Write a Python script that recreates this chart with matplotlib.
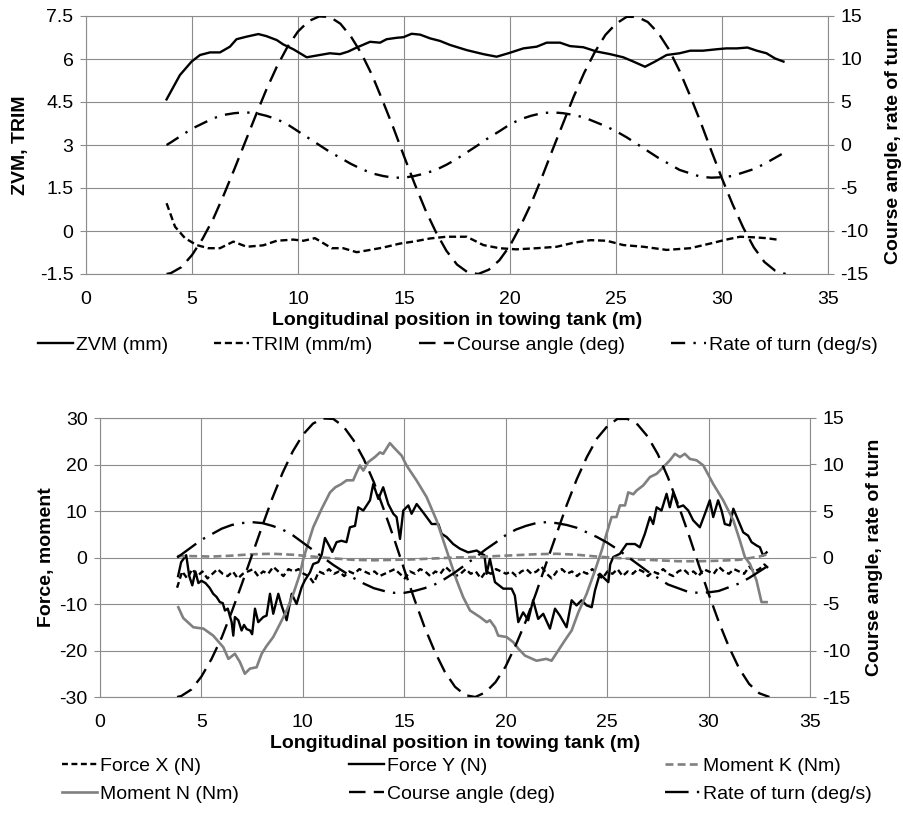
import numpy as np
import matplotlib
matplotlib.use("Agg")
import matplotlib.pyplot as plt

plt.rcParams['font.family'] = ['Liberation Sans', 'DejaVu Sans']
plt.rcParams['font.size'] = 14
plt.rcParams['axes.unicode_minus'] = False

# ---- course angle (deg) and rate of turn (deg/s), both panels ----
course_x = [3.8] + list(np.arange(4.0, 33.01, 0.5))
course_angle = [-15.0, -14.9, -14.2, -12.8, -10.9, -8.6, -5.8, -2.8, 0.3, 3.4,
                6.4, 9.1, 11.4, 13.2, 14.4, 14.95, 14.9, 14.1, 12.6, 10.6,
                8.1, 5.1, 2.0, -1.3, -4.5, -7.5, -10.1, -12.3, -13.9, -14.8,
                -15.0, -14.5, -13.4, -11.7, -9.4, -6.8, -3.8, -0.6, 2.5, 5.6,
                8.4, 10.8, 12.8, 14.1, 14.9, 14.9, 14.3, 13.0, 11.1, 8.6,
                5.7, 2.6, -0.7, -3.9, -6.9, -9.6, -11.9, -13.6, -14.6, -15.0]
rate_of_turn = [0.0, 0.3, 1.1, 1.9, 2.5, 3.1, 3.5, 3.7, 3.8, 3.7,
                3.4, 3.0, 2.4, 1.6, 0.8, 0.0, -0.8, -1.5, -2.2, -2.8,
                -3.3, -3.6, -3.8, -3.8, -3.6, -3.3, -2.9, -2.3, -1.6, -0.8,
                0.0, 0.85, 1.6, 2.4, 3.0, 3.4, 3.7, 3.8, 3.7, 3.5,
                3.2, 2.7, 2.2, 1.6, 0.9, 0.1, -0.7, -1.5, -2.2, -2.9,
                -3.3, -3.7, -3.8, -3.75, -3.6, -3.2, -2.8, -2.2, -1.5, -0.8]

# ---- top panel: ZVM (mm) and TRIM (mm/m) ----
zvm_x = [3.8, 4.43, 4.98, 5.38, 5.85, 6.32, 6.79, 7.1, 7.58, 8.13, 8.5, 9.0, 9.3,
         9.78, 10.41, 11.03, 11.5, 11.98, 12.37, 12.77, 13.4, 13.87, 14.18, 14.66,
         14.97, 15.36, 15.76, 16.23, 16.7, 17.17, 17.96, 18.74, 19.37, 19.92, 20.63,
         21.26, 21.73, 22.36, 22.83, 23.46, 24.09, 24.72, 25.34, 25.82, 26.37, 26.84,
         27.39, 28.0, 28.5, 29.1, 29.75, 30.2, 30.7, 31.2, 31.64, 32.1, 32.5, 32.9]
zvm = [4.59, 5.44, 5.91, 6.14, 6.23, 6.23, 6.43, 6.69, 6.78, 6.87, 6.80, 6.66, 6.51,
       6.34, 6.06, 6.14, 6.20, 6.17, 6.26, 6.40, 6.60, 6.57, 6.69, 6.74,
       6.76, 6.88, 6.85, 6.72, 6.63, 6.49, 6.31, 6.17, 6.08, 6.20, 6.37,
       6.43, 6.57, 6.57, 6.45, 6.41, 6.26, 6.17, 6.06, 5.91, 5.73, 5.91,
       6.14, 6.20, 6.29, 6.29, 6.34, 6.37, 6.37, 6.40, 6.29, 6.20, 6.02, 5.91]

trim_x = [3.8, 4.2, 4.67, 5.22, 5.77, 6.32, 6.95, 7.58, 8.36, 9.0, 9.78, 10.26, 10.8,
          11.59, 12.13, 12.77, 13.4, 14.0, 14.8, 15.44, 16.23, 17.0, 17.96, 18.74,
          19.5, 20.3, 21.26, 22.2, 23.0, 23.8, 24.56, 25.34, 26.3, 27.39, 28.5,
          29.43, 30.2, 30.85, 31.5, 32.1, 32.7]
trim = [0.97, 0.15, -0.25, -0.49, -0.60, -0.60, -0.37, -0.55, -0.50, -0.34, -0.30, -0.34, -0.25,
        -0.60, -0.60, -0.74, -0.66, -0.58, -0.44, -0.37, -0.26, -0.20, -0.20, -0.49,
        -0.60, -0.64, -0.60, -0.55, -0.41, -0.32, -0.34, -0.49, -0.55, -0.66, -0.60,
        -0.44, -0.30, -0.20, -0.22, -0.25, -0.31]

# ---- bottom panel: forces (N) and moments (Nm) ----
force_x = [-6.5, -3.0, -4.5, -2.5, -4.0, -3.0, -4.5, -3.5, -2.5, -3.5,
           -4.0, -3.0, -4.5, -3.5, -3.0, -2.5, -4.0, -3.0, -3.5, -2.0,
           -3.0, -4.0, -2.5, -3.0, -2.5, -3.5, -4.0, -5.5, -3.0, -3.5,
           -2.5, -3.5, -3.0, -4.0, -3.0, -3.5, -2.5, -3.0, -3.5, -3.0,
           -4.0, -3.5, -3.0, -2.5, -3.5, -4.5, -3.0, -3.5, -2.5, -3.0,
           -4.0, -3.0, -3.5, -2.0, -3.0, -4.0, -3.5, -2.5, -3.5, -3.0,
           -4.5, -3.0, -3.5, -2.5, -3.0, -3.5, -3.0, -4.0, -3.0, -2.5,
           -3.5, -3.0, -2.0, -3.5, -4.5, -3.0, -2.5, -3.5, -3.0, -4.0,
           -3.0, -3.5, -2.5, -3.5, -4.5, -3.0, -3.5, -2.5, -4.0, -3.0,
           -3.5, -2.5, -3.0, -4.0, -3.0, -3.5, -2.5, -3.5, -4.0, -3.0,
           -2.5, -3.5, -3.0, -4.0, -2.5, -3.0, -3.5, -2.0, -3.0, -3.5,
           -2.5, -3.0, -3.5, -2.0, -3.0, -2.5, -1.5, -2.5]
force_x_pos = np.linspace(3.8, 33.0, len(force_x))

force_y_x = [3.85, 4.0, 4.25, 4.4, 4.55, 4.7, 4.85, 5.0, 5.2, 5.4, 5.58, 5.75, 5.91, 6.05,
             6.16, 6.3, 6.49, 6.57, 6.65, 6.82, 6.98, 7.1, 7.23, 7.4, 7.5, 7.64, 7.8,
             8.05, 8.21, 8.38, 8.54, 8.79, 8.95, 9.2, 9.45, 9.69, 9.94, 10.1, 10.35,
             10.51, 10.76, 10.93, 11.09, 11.3, 11.45, 11.66, 11.9, 12.15, 12.32, 12.57,
             12.73, 12.98, 13.31, 13.47, 13.72, 13.96, 14.21, 14.46, 14.62, 14.79, 14.95,
             15.2, 15.36, 15.61, 15.86, 16.1, 16.35, 16.68, 16.84, 17.09, 17.41, 17.74,
             18.15, 18.57, 18.81, 18.95, 19.06, 19.22, 19.47, 19.88, 20.29, 20.45, 20.62,
             20.86, 21.11, 21.35, 21.6, 21.85, 22.18, 22.43, 22.67, 23.0, 23.25, 23.49,
             23.74, 23.99, 24.24, 24.4, 24.64, 24.89, 25.06, 25.15, 25.3, 25.63, 25.96,
             26.37, 26.61, 26.86, 27.11, 27.27, 27.44, 27.68, 27.93, 28.09, 28.26, 28.5,
             28.75, 29.0, 29.24, 29.57, 29.82, 30.06, 30.23, 30.47, 30.64, 30.8, 31.05,
             31.22, 31.46, 31.71, 31.95, 32.12, 32.36, 32.53, 32.69, 32.86]
force_y = [-4.0, -1.0, 0.5, -4.0, -6.0, -3.0, -5.5, -5.0, -5.5, -6.5, -7.8, -8.5, -9.6, -9.8,
           -11.4, -11.0, -13.9, -16.8, -12.8, -13.5, -15.7, -14.5, -15.4, -15.7, -16.5, -11.0, -13.9,
           -12.8, -12.5, -7.8, -12.1, -7.8, -10.3, -13.5, -7.8, -10.0, -6.4, -4.9, -3.2,
           -1.4, -1.0, 0.6, 4.2, 2.5, 1.2, 3.3, 3.6, 3.3, 6.5, 6.8,
           10.8, 10.1, 12.3, 15.8, 12.6, 15.1, 11.5, 9.4, 8.7, 4.0, 10.1,
           11.2, 9.4, 11.5, 10.1, 8.7, 7.2, 7.2, 5.1, 4.4, 2.9, 1.9,
           1.1, 1.5, 0.8, 0.5, -3.5, -0.3, -5.3, -6.7, -6.7, -8.2, -13.9,
           -11.8, -13.5, -9.2, -13.2, -12.1, -15.3, -11.0, -12.5, -15.0, -9.2, -10.3,
           -9.2, -10.3, -10.7, -7.1, -3.5, -4.6, -5.3, -1.5, 0.1, 0.8, 2.9,
           2.9, 2.2, 5.1, 8.7, 7.2, 10.8, 10.1, 13.7, 10.8, 14.0, 10.8,
           11.2, 10.1, 8.0, 6.5, 9.4, 12.3, 8.7, 12.3, 10.1, 7.2, 6.9,
           10.5, 8.0, 5.4, 4.7, 3.3, 2.6, 2.2, 0.4, 1.1]

moment_k_x = [3.8, 4.5, 5.5, 6.5, 7.5, 8.5, 9.5, 10.5, 11.5, 12.5, 13.5, 14.5, 15.5, 16.5,
              17.5, 18.5, 19.5, 20.5, 21.5, 22.5, 23.5, 24.5, 25.5, 26.5, 27.5, 28.5,
              29.5, 30.5, 31.5, 32.5, 33.0]
moment_k = [0.3, 0.3, 0.2, 0.4, 0.7, 0.8, 0.6, 0.2, -0.2, -0.5, -0.6, -0.5, -0.4, -0.2,
            0.0, 0.1, 0.3, 0.5, 0.7, 0.8, 0.6, 0.2, -0.1, -0.4, -0.6, -0.8,
            -0.8, -0.7, -0.5, 0.2, 0.8]

moment_n_x = [3.86, 4.1, 4.6, 5.1, 5.58, 6.08, 6.33, 6.65, 6.9, 7.14, 7.39, 7.72, 7.97, 8.2,
              8.54, 8.87, 9.2, 9.53, 9.86, 10.02, 10.51, 10.93, 11.34, 11.6, 11.9, 12.16,
              12.48, 12.65, 12.81, 12.98, 13.22, 13.55, 13.8, 13.96, 14.29, 14.54, 14.87,
              15.11, 15.6, 16.1, 16.59, 16.92, 17.25, 17.58, 17.9, 18.24, 18.73, 19.06,
              19.22, 19.47, 19.63, 20.04, 20.37, 20.62, 20.95, 21.52, 22.0, 22.26, 22.59,
              22.92, 23.25, 23.58, 23.99, 24.4, 24.73, 24.97, 25.22, 25.46, 25.63, 25.88,
              26.04, 26.29, 26.45, 26.78, 27.11, 27.44, 27.76, 28.09, 28.34, 28.59, 28.83,
              29.08, 29.41, 29.74, 30.23, 30.72, 31.22, 31.54, 31.79, 32.04, 32.36, 32.61,
              32.86]
moment_n = [-10.7, -13.0, -15.0, -15.3, -16.8, -19.3, -21.8, -20.7, -22.5, -25.0, -23.9, -23.6, -20.7, -19.1,
            -17.1, -14.3, -11.4, -7.8, -3.5, -0.3, 6.5, 10.5, 14.0, 15.1, 15.8, 16.6,
            16.6, 18.3, 19.8, 18.7, 20.5, 21.6, 22.6, 22.3, 24.6, 23.4, 21.9,
            19.8, 16.6, 13.0, 8.0, 3.7, -0.6, -4.9, -8.5, -11.4, -12.8, -13.9,
            -13.5, -15.0, -16.8, -17.1, -18.2, -19.6, -21.1, -22.2, -21.8, -22.2, -20.0,
            -17.8, -15.7, -11.8, -7.8, -2.8, 1.5, 5.1, 8.7, 8.7, 11.2, 11.2,
            14.0, 13.6, 14.4, 15.5, 17.3, 18.0, 19.4, 20.9, 22.3, 21.6, 22.3,
            21.2, 20.9, 19.8, 15.8, 12.3, 8.0, 3.7, 0.1, -1.4, -4.9, -9.6,
            -9.6]

GRID = '#8c8c8c'
GRAY = '#808080'


def style_axes(ax, ymin, ymax, ystep):
    ax.set_xlim(0, 35)
    ax.set_xticks(np.arange(0, 36, 5))
    ax.set_ylim(ymin, ymax)
    ax.set_yticks(np.arange(ymin, ymax + ystep / 2, ystep))
    ax.grid(True, color=GRID, lw=0.8)
    ax.set_axisbelow(True)
    for s in ax.spines.values():
        s.set_color(GRID)
        s.set_linewidth(0.8)
    ax.tick_params(axis='x', length=0, pad=12)
    ax.tick_params(axis='y', length=4, color=GRID, pad=5)


def style_right(axr):
    axr.set_ylim(-15, 15)
    axr.set_yticks(np.arange(-15, 16, 5))
    for s in axr.spines.values():
        s.set_visible(False)
    axr.tick_params(axis='y', length=4, color=GRID, pad=5)


fig = plt.figure(figsize=(9.04, 8.21), dpi=100)

# ---------------- top panel ----------------
ax1 = fig.add_axes([86 / 904, 1 - 274 / 821, 742 / 904, 258 / 821])
style_axes(ax1, -1.5, 7.5, 1.5)
ax1.set_yticklabels(['-1.5', '0', '1.5', '3', '4.5', '6', '7.5'])
ax1r = ax1.twinx()
style_right(ax1r)

l_zvm, = ax1.plot(zvm_x, zvm, color='black', lw=1.7, label='ZVM (mm)')
l_trim, = ax1.plot(trim_x, trim, color='black', lw=1.7, dashes=(3, 1.6), label='TRIM (mm/m)')
l_ca, = ax1r.plot(course_x, course_angle, color='black', lw=1.7, dashes=(7, 3.5),
                  label='Course angle (deg)')
l_rt, = ax1r.plot(course_x, rate_of_turn, color='black', lw=1.7, dashes=(6, 3.5, 1, 3.5),
                  label='Rate of turn (deg/s)')

ax1.set_xlabel('Longitudinal position in towing tank (m)', fontweight='bold', labelpad=3)
ax1.set_ylabel('ZVM, TRIM', fontweight='bold', labelpad=8)
ax1r.set_ylabel('Course angle, rate of turn', fontweight='bold', labelpad=12)

fig.legend([l_zvm, l_trim, l_ca, l_rt],
           [h.get_label() for h in [l_zvm, l_trim, l_ca, l_rt]],
           loc='center', bbox_to_anchor=(38 / 904, 1 - 345 / 821 - 0.015, 840 / 904, 0.03),
           mode='expand', ncol=4, frameon=False, handlelength=1.8, handletextpad=0.15,
           borderaxespad=0, borderpad=0, fontsize=14)

# ---------------- bottom panel ----------------
ax2 = fig.add_axes([100 / 904, 1 - 697 / 821, 710 / 904, 279 / 821])
style_axes(ax2, -30, 30, 10)
ax2r = ax2.twinx()
style_right(ax2r)

b_fx, = ax2.plot(force_x_pos, force_x, color='black', lw=1.7, dashes=(2.5, 1.5), label='Force X (N)')
b_fy, = ax2.plot(force_y_x, force_y, color='black', lw=1.7, label='Force Y (N)')
b_mk, = ax2.plot(moment_k_x, moment_k, color=GRAY, lw=1.9, dashes=(3, 1.6), label='Moment K (Nm)')
b_mn, = ax2.plot(moment_n_x, moment_n, color=GRAY, lw=1.9, label='Moment N (Nm)')
b_ca, = ax2r.plot(course_x, course_angle, color='black', lw=1.7, dashes=(7, 3.5),
                  label='Course angle (deg)')
b_rt, = ax2r.plot(course_x, rate_of_turn, color='black', lw=1.7, dashes=(10, 3.5, 1, 3.5),
                  label='Rate of turn (deg/s)')

ax2.set_xlabel('Longitudinal position in towing tank (m)', fontweight='bold', labelpad=3)
ax2.set_ylabel('Force, moment', fontweight='bold', labelpad=3)
ax2r.set_ylabel('Course angle, rate of turn', fontweight='bold', labelpad=11)

order = [b_fx, b_mn, b_fy, b_ca, b_mk, b_rt]
fig.legend(order, [h.get_label() for h in order],
           loc='center', bbox_to_anchor=(62 / 904, 1 - 780 / 821 - 0.04, 810 / 904, 0.08),
           mode='expand', ncol=3, frameon=False, handlelength=1.8, handletextpad=0.15,
           borderaxespad=0, borderpad=0, labelspacing=0.55, fontsize=14)

fig.savefig('out.png', dpi=100)
